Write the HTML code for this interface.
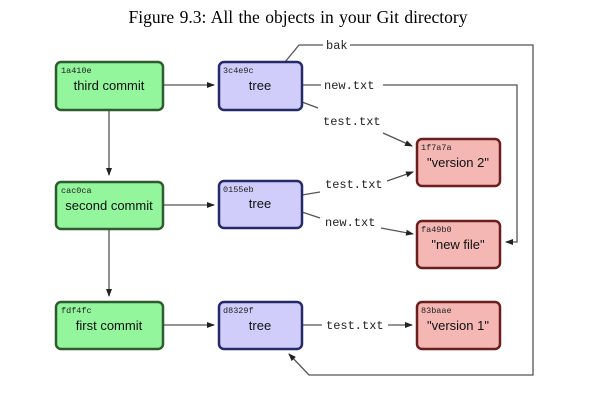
<!DOCTYPE html>
<html><head><style>
body{margin:0;background:#fff;width:594px;height:408px;overflow:hidden}
svg text{font-family:"Liberation Sans",sans-serif}
.m{font-family:"Liberation Mono",monospace;font-size:12px;fill:#222}
.h{font-family:"Liberation Mono",monospace;font-size:8.5px;fill:#222}
.l{font-size:13px;fill:#111;text-anchor:middle}
</style></head><body>
<svg width="594" height="408" viewBox="0 0 594 408">
<defs><marker id="a" markerWidth="8" markerHeight="8" refX="7" refY="4" orient="auto" markerUnits="userSpaceOnUse"><path d="M0,1 L8,4 L0,7z" fill="#222"/></marker></defs>
<text x="298" y="23" text-anchor="middle" style="font-family:'Liberation Serif',serif;font-size:17.5px;fill:#000;word-spacing:1px">Figure 9.3:  All the objects in your Git directory</text>
<g stroke="#555" stroke-width="1.3" fill="none">
<path d="M109,110 V175" marker-end="url(#a)"/>
<path d="M109,229 V296" marker-end="url(#a)"/>
<path d="M163,85 H214" marker-end="url(#a)"/>
<path d="M163,205 H214" marker-end="url(#a)"/>
<path d="M163,325 H214" marker-end="url(#a)"/>
<path d="M285,62 L299,45 H323 M350,45 H533 V375 H309 L289,354" marker-end="url(#a)"/>
<path d="M302,85 H321 M383,85 H517 V242 H506" marker-end="url(#a)"/>
<path d="M302,102 L318,108"/>
<path d="M383,133 L412,146" marker-end="url(#a)"/>
<path d="M302,195 L320,192 M387,181 L413,172" marker-end="url(#a)"/>
<path d="M302,212 L320,218"/>
<path d="M381,228 L413,234" marker-end="url(#a)"/>
<path d="M302,325 H322 M388,325 H412" marker-end="url(#a)"/>
</g>
<g stroke-width="2.5">
<rect x="56" y="62" width="107" height="48" rx="5" fill="#93f59c" stroke="#2e5b2f"/>
<rect x="56" y="182" width="107" height="47" rx="5" fill="#93f59c" stroke="#2e5b2f"/>
<rect x="56" y="302" width="107" height="47" rx="5" fill="#93f59c" stroke="#2e5b2f"/>
<rect x="219" y="62" width="83" height="48" rx="5" fill="#d0cdfb" stroke="#262a68"/>
<rect x="219" y="181" width="83" height="47" rx="5" fill="#d0cdfb" stroke="#262a68"/>
<rect x="219" y="302" width="83" height="47" rx="5" fill="#d0cdfb" stroke="#262a68"/>
<rect x="417" y="139" width="83" height="47" rx="5" fill="#f4b7b4" stroke="#6a1e1e"/>
<rect x="417" y="221" width="83" height="47" rx="5" fill="#f4b7b4" stroke="#6a1e1e"/>
<rect x="417" y="302" width="83" height="47" rx="5" fill="#f4b7b4" stroke="#6a1e1e"/>
</g>
<text class="h" x="61" y="73">1a410e</text><text class="l" x="109" y="90">third commit</text>
<text class="h" x="61" y="193">cac0ca</text><text class="l" x="109" y="210">second commit</text>
<text class="h" x="61" y="313">fdf4fc</text><text class="l" x="109" y="330">first commit</text>
<text class="h" x="223" y="73">3c4e9c</text><text class="l" x="260" y="90">tree</text>
<text class="h" x="223" y="192">0155eb</text><text class="l" x="260" y="208">tree</text>
<text class="h" x="223" y="313">d8329f</text><text class="l" x="260" y="330">tree</text>
<text class="h" x="421" y="150">1f7a7a</text><text class="l" x="458" y="167">"version 2"</text>
<text class="h" x="421" y="232">fa49b0</text><text class="l" x="458" y="249">"new file"</text>
<text class="h" x="421" y="313">83baae</text><text class="l" x="458" y="330">"version 1"</text>
<text class="m" x="326" y="49">bak</text>
<text class="m" x="324" y="89">new.txt</text>
<text class="m" x="323" y="125">test.txt</text>
<text class="m" x="325" y="188">test.txt</text>
<text class="m" x="325" y="226">new.txt</text>
<text class="m" x="326" y="329">test.txt</text>
</svg>
</body></html>
